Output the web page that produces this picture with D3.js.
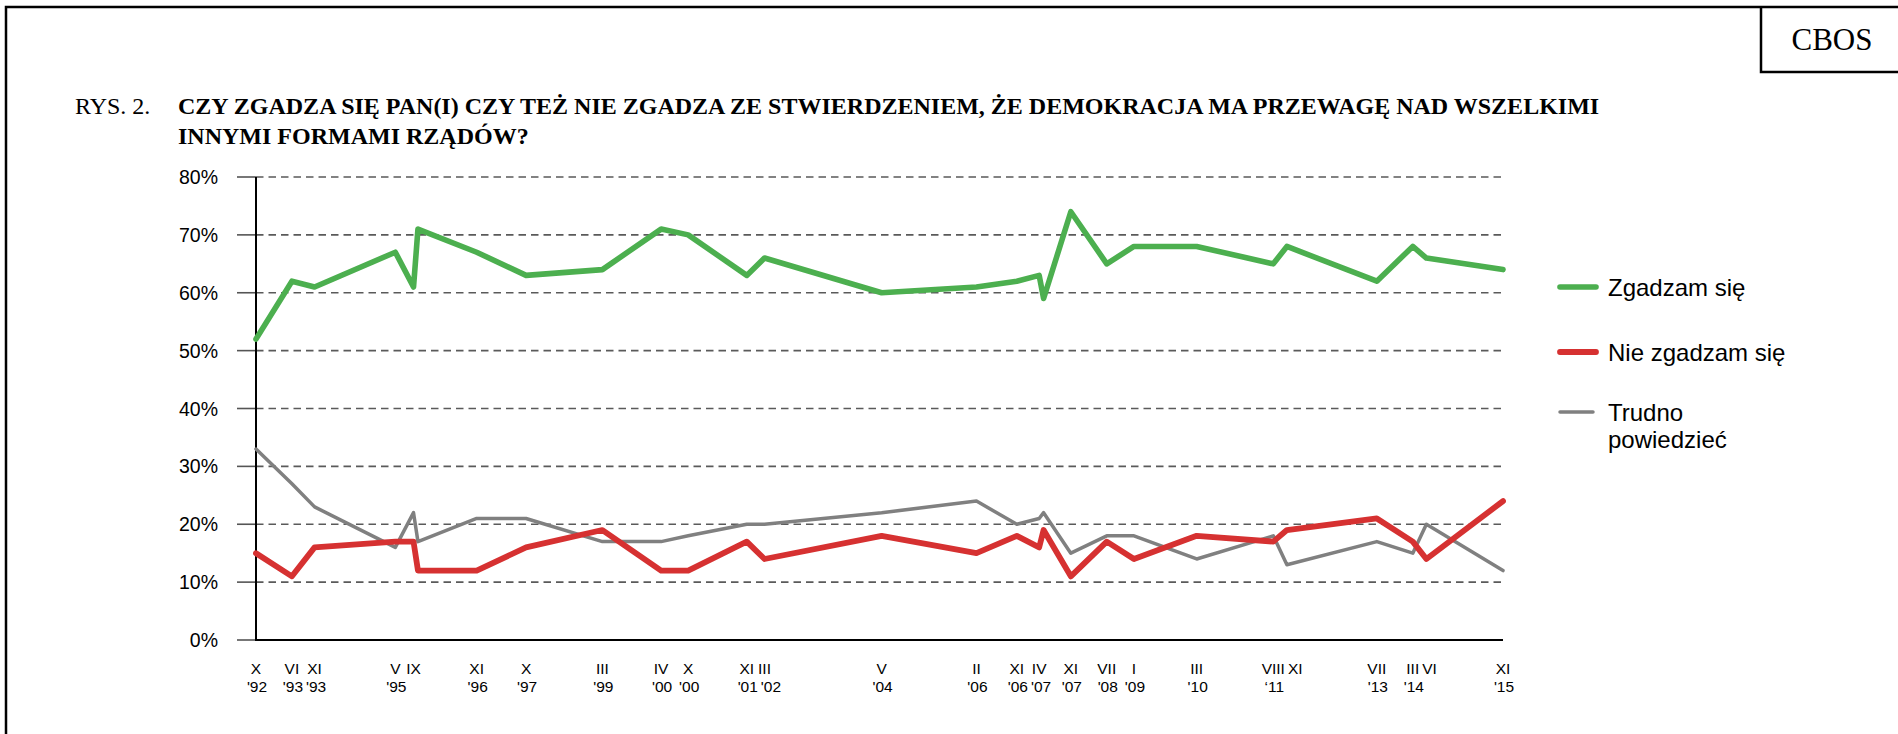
<!DOCTYPE html>
<html>
<head>
<meta charset="utf-8">
<script src="https://cdn.jsdelivr.net/npm/d3@7"></script>
<style>
	html, body { margin: 0; padding: 0; background: #fff; }
	svg { display: block; }
</style>
</head>
<body>
<div id="chart"></div>
<script>
// survey months (one entry per poll; empty label = unlabelled poll)
var surveyDates = ["1992-10", "1993-06", "1993-11", "1995-05", "1995-09", "1995-10", "1996-11",
	"1997-10", "1999-03", "2000-04", "2000-10", "2001-11", "2002-03", "2004-05", "2006-02",
	"2006-11", "2007-04", "2007-05", "2007-11", "2008-07", "2009-01", "2010-03", "2011-08",
	"2011-11", "2013-07", "2014-03", "2014-06", "2015-11"];
var monthLabels = ["X", "VI", "XI", "V", "IX", "", "XI", "X", "III", "IV", "X", "XI", "III", "V",
	"II", "XI", "IV", "", "XI", "VII", "I", "III", "VIII", "XI", "VII", "III", "VI", "XI"];
var yearLabels = ["'92", "'93", "'93", "'95", "", "", "'96", "'97", "'99", "'00", "'00", "'01", "'02",
	"'04", "'06", "'06", "'07", "", "'07", "'08", "'09", "'10", "\u201811", "", "'13", "'14", "", "'15"];

var agree = [52, 62, 61, 67, 61, 71, 67, 63, 64, 71, 70, 63, 66, 60, 61, 62, 63, 59, 74, 65, 68, 68,
	65, 68, 62, 68, 66, 64];
var disagree = [15, 11, 16, 17, 17, 12, 12, 16, 19, 12, 12, 17, 14, 18, 15, 18, 16, 19, 11, 17, 14, 18,
	17, 19, 21, 17, 14, 24];
var hardToSay = [33, 27, 23, 16, 22, 17, 21, 21, 17, 17, 18, 20, 20, 22, 24, 20, 21, 22, 15, 18, 18, 14,
	18, 13, 17, 15, 20, 12];

var seriesNames = ["Zgadzam się", "Nie zgadzam się", "Trudno powiedzieć"];
var seriesColors = ["#4caf4f", "#d63131", "#808080"];
var yTicks = [0, 10, 20, 30, 40, 50, 60, 70, 80];

(function() {
	"use strict";

	var W = 1898, H = 734;
	var sans = "'Liberation Sans', Arial, sans-serif";
	var serif = "'Liberation Serif', 'Times New Roman', serif";
	var parse = d3.timeParse("%Y-%m");
	var dates = surveyDates.map(parse);

	var svg = d3.select("#chart").append("svg")
		.attr("width", W).attr("height", H);

	// page frame and CBOS box
	svg.append("path").attr("d", "M6,734 V7 H1898")
		.attr("fill", "none").attr("stroke", "#000").attr("stroke-width", 2.5);
	svg.append("path").attr("d", "M1761,7 V72 H1898")
		.attr("fill", "none").attr("stroke", "#000").attr("stroke-width", 2.5);
	svg.append("text").attr("x", 1832).attr("y", 50)
		.attr("text-anchor", "middle").style("font-family", serif).style("font-size", "31px")
		.text("CBOS");

	// title
	svg.append("text").attr("x", 75).attr("y", 114)
		.style("font-family", serif).style("font-size", "24px").text("RYS. 2.");
	var title = svg.append("text").attr("x", 178).attr("y", 114)
		.style("font-family", serif).style("font-size", "24px").style("font-weight", "bold");
	title.append("tspan").attr("x", 178).attr("y", 114)
		.text("CZY ZGADZA SIĘ PAN(I) CZY TEŻ NIE ZGADZA ZE STWIERDZENIEM, ŻE DEMOKRACJA MA PRZEWAGĘ NAD WSZELKIMI");
	title.append("tspan").attr("x", 178).attr("y", 144).text("INNYMI FORMAMI RZĄDÓW?");

	var x = d3.scaleTime().domain([dates[0], dates[dates.length - 1]]).range([256, 1503]);
	var y = d3.scaleLinear().domain([0, 80]).range([640, 177]);

	// grid
	var grid = svg.append("g");
	grid.selectAll("line.stub").data(yTicks).enter().append("line").attr("class", "stub")
		.attr("x1", 237).attr("x2", 256)
		.attr("y1", function(d) { return y(d); }).attr("y2", function(d) { return y(d); })
		.attr("stroke", "#555").attr("stroke-width", 1.6);
	grid.selectAll("line.dash").data(yTicks.slice(1)).enter().append("line").attr("class", "dash")
		.attr("x1", 256).attr("x2", 1503)
		.attr("y1", function(d) { return y(d); }).attr("y2", function(d) { return y(d); })
		.attr("stroke", "#5a5a5a").attr("stroke-width", 1.6).attr("stroke-dasharray", "7.5,5");

	grid.selectAll("text").data(yTicks).enter().append("text")
		.attr("x", 218).attr("y", function(d) { return y(d); }).attr("dy", "0.36em")
		.attr("text-anchor", "end").style("font-family", sans).style("font-size", "19.5px")
		.text(function(d) { return d + "%"; });

	// axes
	svg.append("line").attr("x1", 256).attr("x2", 256).attr("y1", 177).attr("y2", 641)
		.attr("stroke", "#000").attr("stroke-width", 2);
	svg.append("line").attr("x1", 255).attr("x2", 1503).attr("y1", 640).attr("y2", 640)
		.attr("stroke", "#000").attr("stroke-width", 2);

	// x labels, nudged right when neighbours collide
	var xl = svg.append("g").style("font-family", sans).style("font-size", "15.5px")
		.attr("text-anchor", "middle");
	function labelRow(cls, texts, yy, dx) {
		var sel = xl.selectAll("text." + cls).data(dates).enter().append("text").attr("class", cls)
			.attr("x", function(d) { return x(d) + dx; }).attr("y", yy)
			.text(function(d, i) { return texts[i]; });
		var prevRight = -Infinity;
		sel.each(function(d, i) {
			if (!texts[i]) return;
			var w = this.getComputedTextLength();
			var cx = x(d) + dx;
			if (cx - w / 2 < prevRight + 3) {
				cx = prevRight + 3 + w / 2;
				d3.select(this).attr("x", cx);
			}
			prevRight = cx + w / 2;
		});
	}
	labelRow("m", monthLabels, 674, 0);
	labelRow("yr", yearLabels, 692, 1);

	// lines
	var series = [
		{ name: seriesNames[2], values: hardToSay, color: seriesColors[2], w: 3.5 },
		{ name: seriesNames[1], values: disagree, color: seriesColors[1], w: 5.8 },
		{ name: seriesNames[0], values: agree, color: seriesColors[0], w: 5.6 }
	];
	var line = d3.line()
		.x(function(d, i) { return x(dates[i]); })
		.y(function(d) { return y(d); });
	svg.selectAll("path.series").data(series).enter().append("path").attr("class", "series")
		.attr("d", function(s) { return line(s.values); })
		.attr("fill", "none").attr("stroke", function(s) { return s.color; })
		.attr("stroke-width", function(s) { return s.w; })
		.attr("stroke-linejoin", "round").attr("stroke-linecap", "round");

	// legend
	var legendRows = [
		{ lines: [seriesNames[0]], color: seriesColors[0], w: 5.6, y: 287, x2: 1596 },
		{ lines: [seriesNames[1]], color: seriesColors[1], w: 5.8, y: 352, x2: 1596 },
		{ lines: ["Trudno", "powiedzieć"], color: seriesColors[2], w: 3.5, y: 412, x2: 1593 }
	];
	var lg = svg.append("g");
	legendRows.forEach(function(r) {
		lg.append("line").attr("x1", 1560).attr("x2", r.x2).attr("y1", r.y).attr("y2", r.y)
			.attr("stroke", r.color).attr("stroke-width", r.w).attr("stroke-linecap", "round");
		var t = lg.append("text").style("font-family", sans).style("font-size", "24px");
		r.lines.forEach(function(s, k) {
			t.append("tspan").attr("x", 1608).attr("y", r.y + 9 + k * 27).text(s);
		});
	});
})();
</script>
</body>
</html>
